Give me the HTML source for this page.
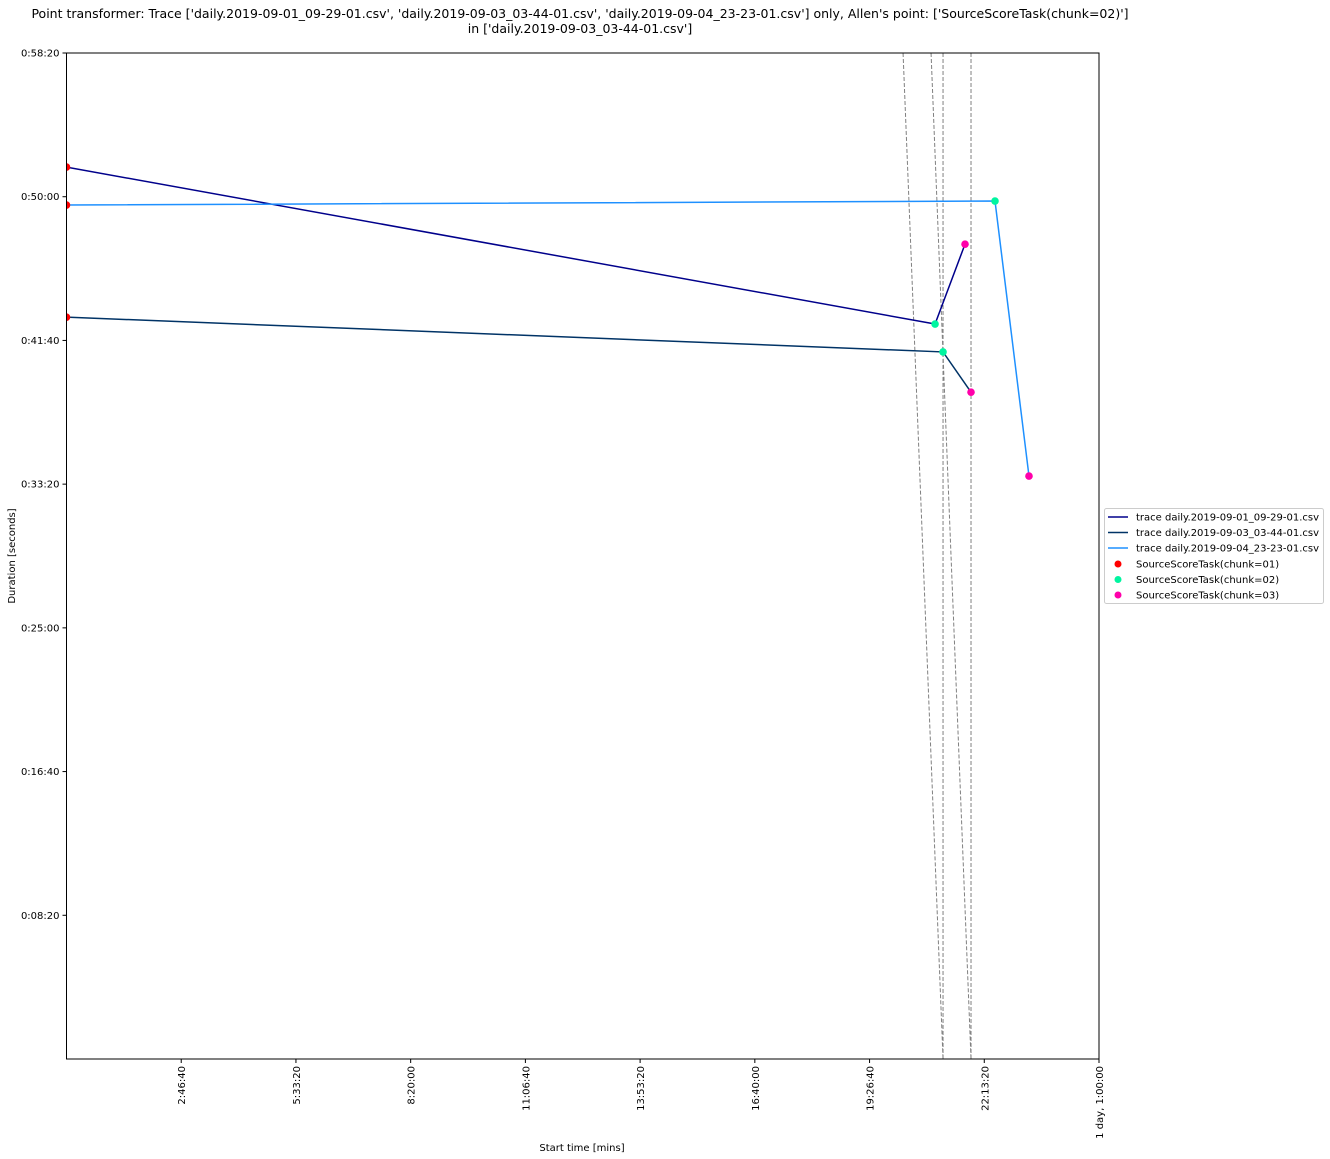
<!DOCTYPE html>
<html><head><meta charset="utf-8"><style>
body{margin:0;background:#fff;}
svg{display:block;font-family:"DejaVu Sans","Liberation Sans",sans-serif;}
</style></head><body>
<svg id="chart" width="1330" height="1159" viewBox="0 0 1330 1159">
<text x="580" y="18" text-anchor="middle" font-size="12.5">Point transformer: Trace ['daily.2019-09-01_09-29-01.csv', 'daily.2019-09-03_03-44-01.csv', 'daily.2019-09-04_23-23-01.csv'] only, Allen's point: ['SourceScoreTask(chunk=02)']</text>
<text x="580" y="33" text-anchor="middle" font-size="12.5">in ['daily.2019-09-03_03-44-01.csv']</text>
<text transform="translate(15,556) rotate(-90)" text-anchor="middle" font-size="10">Duration [seconds]</text>
<text x="582" y="1151" text-anchor="middle" font-size="10">Start time [mins]</text>
<g id="plot"></g>
<g id="legend">
<rect x="1104.5" y="508.5" width="219" height="95" fill="#fff" stroke="#ccc" rx="2"/>
</g>
</svg>
<script>
const xTicks=[10000,20000,30000,40000,50000,60000,70000,80000,90000];
const xTickLabels=["2:46:40","5:33:20","8:20:00","11:06:40","13:53:20","16:40:00","19:26:40","22:13:20","1 day, 1:00:00"];
const yTicks=[500,1000,1500,2000,2500,3000,3500];
const yTickLabels=["0:08:20","0:16:40","0:25:00","0:33:20","0:41:40","0:50:00","0:58:20"];
const seriesNames=["trace daily.2019-09-01_09-29-01.csv","trace daily.2019-09-03_03-44-01.csv","trace daily.2019-09-04_23-23-01.csv"];
const seriesColors=["#00008b","#003366","#1e90ff"];
const seriesX=[[0,75710,78322],[0,76405,78844],[0,80935,83897]];
const seriesY=[[3103,2557,2835],[2581,2460,2320],[2971,2985,2028]];
const chunkNames=["SourceScoreTask(chunk=01)","SourceScoreTask(chunk=02)","SourceScoreTask(chunk=03)"];
const chunkColors=["#ff0000","#00f5a0","#ff00aa"];
const dashX1=[72920,75360,76405,78844];
const dashX2=[76405,78844,76405,78844];

const X0=66.5,X1=1099,Y0=1059,Y1=53,XMAX=90000,YMAX=3500;
const sx=v=>X0+(X1-X0)*v/XMAX;
const sy=v=>Y0-(Y0-Y1)*v/YMAX;
const NS="http://www.w3.org/2000/svg";
const plot=document.getElementById('plot');
function mk(tag,attrs,parent){const e=document.createElementNS(NS,tag);for(const k in attrs)e.setAttribute(k,attrs[k]);(parent||plot).appendChild(e);return e;}

const clip=mk('clipPath',{id:'pc'});mk('rect',{x:X0,y:Y1,width:X1-X0,height:Y0-Y1},clip);
const inner=mk('g',{'clip-path':'url(#pc)'});

for(let i=0;i<dashX1.length;i++){
  const l=mk('line',{x1:sx(dashX1[i]),y1:Y1,x2:sx(dashX2[i]),y2:Y0,stroke:'#808080','stroke-width':1,'stroke-dasharray':'4,2'},inner);
  
  
}
for(let s=0;s<seriesX.length;s++){
  const pts=seriesX[s].map((x,i)=>sx(x)+','+sy(seriesY[s][i])).join(' ');
  const p=mk('polyline',{points:pts,fill:'none',stroke:seriesColors[s],'stroke-width':1.5},inner);
  
  
}
for(let s=0;s<seriesX.length;s++){
  for(let i=0;i<seriesX[s].length;i++){
    const c=mk('circle',{cx:sx(seriesX[s][i]),cy:sy(seriesY[s][i]),r:3.8,fill:chunkColors[i]},inner);
    
    
  }
}
const frame=mk('rect',{x:X0,y:Y1,width:X1-X0,height:Y0-Y1,fill:'none',stroke:'#000','stroke-width':1});



for(let i=0;i<xTicks.length;i++){
  const x=sx(xTicks[i]);
  mk('line',{x1:x,y1:Y0,x2:x,y2:Y0+4,stroke:'#000'});
  const t=mk('text',{transform:`translate(${x+4},${Y0+7}) rotate(-90)`,'text-anchor':'end','font-size':10});
  t.textContent=xTickLabels[i];
  
  
}
for(let i=0;i<yTicks.length;i++){
  const y=sy(yTicks[i]);
  mk('line',{x1:X0-4,y1:y,x2:X0,y2:y,stroke:'#000'});
  const t=mk('text',{x:X0-7,y:y+3.5,'text-anchor':'end','font-size':10});
  t.textContent=yTickLabels[i];
  
  
}
const lg=document.getElementById('legend');
for(let i=0;i<3;i++){
  const y=517+i*15.5;
  mk('line',{x1:1108,y1:y,x2:1128,y2:y,stroke:seriesColors[i],'stroke-width':1.5},lg);
  const t=mk('text',{x:1136,y:y+3.5,'font-size':10},lg);
  t.textContent=seriesNames[i];
  
  
}
for(let i=0;i<3;i++){
  const y=564+i*15.5;
  mk('circle',{cx:1118,cy:y,r:3.5,fill:chunkColors[i]},lg);
  const t=mk('text',{x:1136,y:y+3.5,'font-size':10},lg);
  t.textContent=chunkNames[i];
  
  
}
</script>
</body></html>
